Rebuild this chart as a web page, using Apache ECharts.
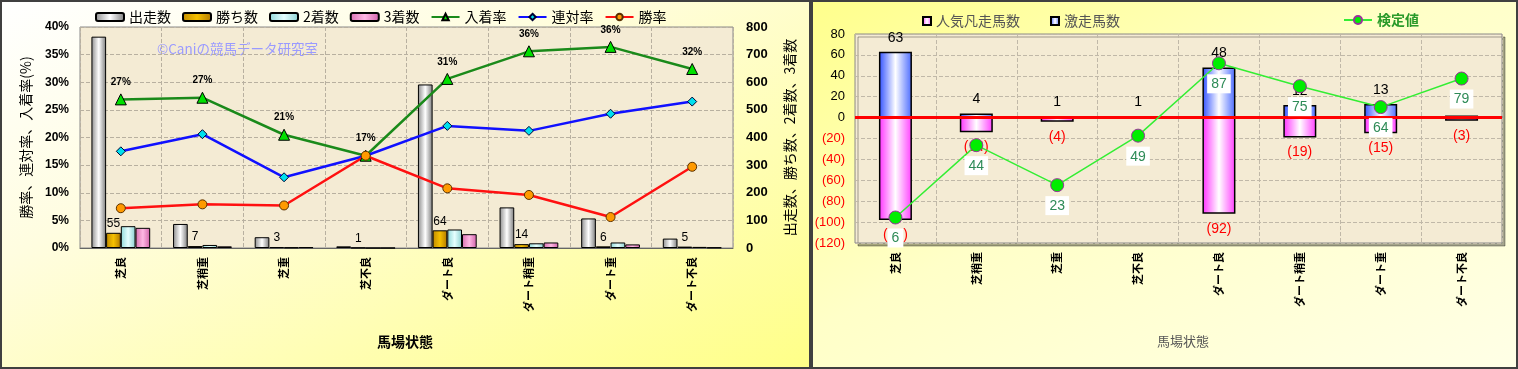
<!DOCTYPE html>
<html><head><meta charset="utf-8">
<script src="https://cdn.jsdelivr.net/npm/echarts@6/dist/echarts.min.js"></script>
<style>
html,body{margin:0;padding:0;width:1518px;height:369px;overflow:hidden;background:#fff;}
.bg{position:absolute;top:0;box-sizing:border-box;border:2px solid #404040;}
#bgL{left:0;width:811px;height:369px;background:linear-gradient(to bottom right,#ffffff 0%,#fffde0 35%,#ffff88 100%);}
#bgR{left:811px;width:707px;height:369px;background:linear-gradient(to bottom right,#ffff8c 0%,#ffffc8 45%,#ffffe6 100%);}
.ch{position:absolute;top:0;height:369px;}
#cL{left:0;width:811px;}
#cR{left:811px;width:707px;}
</style></head>
<body>
<div id="bgL" class="bg"></div><div id="bgR" class="bg"></div>
<div id="cL" class="ch"></div><div id="cR" class="ch"></div>
<script>
// ---------- data ----------
const categories = ['芝良','芝稍重','芝重','芝不良','ダート良','ダート稍重','ダート重','ダート不良'];
// left chart (counts, right axis)
const starters = [765, 87, 39, 6, 592, 147, 107, 34];
const wins     = [55, 7, 3, 1, 64, 14, 6, 5];
const seconds  = [79, 11, 2, 0, 67, 17, 20, 4];
const thirds   = [73, 6, 3, 0, 50, 20, 13, 2];
// left chart (rates %, left axis)
const placeRate    = [26.9, 27.2, 20.5, 16.7, 30.6, 35.6, 36.4, 32.4];
const quinellaRate = [17.5, 20.6, 12.8, 16.7, 22.1, 21.2, 24.3, 26.5];
const winRate      = [7.2, 7.9, 7.7, 16.7, 10.8, 9.6, 5.6, 14.7];
const leftRateTicks = ['0%','5%','10%','15%','20%','25%','30%','35%','40%'];
// right chart
const upsets = [63, 4, 1, 1, 48, 12, 13, 2];            // 激走馬数
const flops  = [-98, -14, -4, 0, -92, -19, -15, -3];    // 人気凡走馬数
const testValue = [6, 44, 23, 49, 87, 75, 64, 79];      // 検定値

const FF = "'Liberation Sans','Noto Sans CJK JP',sans-serif";
const JF = "'Noto Sans CJK JP','Liberation Sans',sans-serif";
const G = echarts.graphic.LinearGradient;
function cyl(a,b,c){ return new G(0,0,1,0,[{offset:0,color:a},{offset:0.5,color:b},{offset:1,color:c}]); }

// ---------- left chart ----------
const cL = echarts.init(document.getElementById('cL'), null, {renderer:'canvas'});
const barBase = {type:'bar', yAxisIndex:1, barGap:'0%', barCategoryGap:'28%'};
cL.setOption({
  animation:false,
  textStyle:{fontFamily:FF},
  legend:{
    left:90, top:5, itemWidth:28, itemHeight:8, itemGap:11,
    textStyle:{fontFamily:JF, fontSize:14, color:'#000'},
    data:['出走数','勝ち数','2着数','3着数','入着率','連対率','勝率']
  },
  grid:{left:80, top:27, width:653, height:221, show:true, backgroundColor:'#f4ebd4', borderColor:'#8a8a8a', borderWidth:1},
  xAxis:{
    type:'category', data:categories,
    axisLine:{lineStyle:{color:'#666'}}, axisTick:{show:false},
    splitLine:{show:true, lineStyle:{color:'#b8b0a0', type:'dashed'}},
    axisLabel:{rotate:90, margin:9, fontFamily:JF, fontSize:11, fontWeight:'bold', color:'#000'}
  },
  yAxis:[
    {type:'value', min:0, max:40, interval:5, position:'left',
     axisLine:{show:false}, axisTick:{show:false},
     splitLine:{lineStyle:{color:'#b8b0a0', type:'dashed'}},
     axisLabel:{margin:11, fontSize:12, fontWeight:'bold', color:'#000', formatter:(v)=>leftRateTicks[v/5]},
     name:'勝率、連対率、入着率(%)', nameLocation:'middle', nameRotate:90, nameGap:47,
     nameTextStyle:{fontFamily:JF, fontSize:14, color:'#000'}},
    {type:'value', min:0, max:800, interval:100, position:'right',
     axisLine:{show:false}, axisTick:{show:false}, splitLine:{show:false},
     axisLabel:{margin:13, fontSize:13, fontWeight:'bold', color:'#000'},
     name:'出走数、勝ち数、2着数、3着数', nameLocation:'middle', nameRotate:90, nameGap:50,
     nameTextStyle:{fontFamily:JF, fontSize:14, color:'#000'}}
  ],
  graphic:[
    {type:'text', left:157, top:42, style:{text:'©Caniの競馬データ研究室', fill:'#9a9aff', font:"13.5px "+JF}},
    {type:'text', left:377, top:335, style:{text:'馬場状態', fill:'#000', font:"bold 14px "+JF}}
  ],
  series:[
    Object.assign({}, barBase, {name:'出走数', data:starters,
      itemStyle:{color:cyl('#8c8c8c','#ffffff','#7a7a7a'), borderColor:'#000', borderWidth:1}}),
    Object.assign({}, barBase, {name:'勝ち数', data:wins,
      itemStyle:{color:cyl('#c08a00','#f5c000','#b07800'), borderColor:'#000', borderWidth:1},
      label:{show:true, position:'top', distance:3, fontSize:12, color:'#000'}}),
    Object.assign({}, barBase, {name:'2着数', data:seconds,
      itemStyle:{color:cyl('#8fd8d8','#e6ffff','#8ad0d0'), borderColor:'#000', borderWidth:1}}),
    Object.assign({}, barBase, {name:'3着数', data:thirds,
      itemStyle:{color:cyl('#d870b0','#ffb8e4','#d060a8'), borderColor:'#000', borderWidth:1}}),
    {type:'line', name:'入着率', data:placeRate, yAxisIndex:0, z:5,
     lineStyle:{color:'#1a8a1a', width:2.5}, symbol:'triangle', symbolSize:11,
     itemStyle:{color:'#00e000', borderColor:'#000', borderWidth:1},
     label:{show:true, position:'top', distance:6, fontSize:10, fontWeight:'bold', color:'#000',
            formatter:(p)=>Math.round(p.value)+'%'}},
    {type:'line', name:'連対率', data:quinellaRate, yAxisIndex:0, z:5,
     lineStyle:{color:'#1010ff', width:2.5}, symbol:'diamond', symbolSize:9,
     itemStyle:{color:'#00e0ee', borderColor:'#003', borderWidth:1}},
    {type:'line', name:'勝率', data:winRate, yAxisIndex:0, z:5,
     lineStyle:{color:'#ff1010', width:2.5}, symbol:'circle', symbolSize:9,
     itemStyle:{color:'#ff9a00', borderColor:'#5a3000', borderWidth:1}}
  ]
});

// ---------- right chart ----------
const cR = echarts.init(document.getElementById('cR'), null, {renderer:'canvas'});
cR.setOption({
  animation:false,
  textStyle:{fontFamily:FF},
  legend:[
    {left:106, top:9, itemWidth:8, itemHeight:8, itemGap:30, icon:'rect',
     textStyle:{fontFamily:JF, fontSize:14, color:'#555'},
     data:['人気凡走馬数','激走馬数']},
    {left:527, top:8, itemWidth:28, itemHeight:10,
     textStyle:{fontFamily:JF, fontSize:14, color:'#2a9a2a', fontWeight:'bold'},
     data:['検定値']}
  ],
  grid:{left:44, top:34, width:647, height:209, show:true, backgroundColor:'#f4ebd4',
        borderColor:'#8a8a8a', borderWidth:1, shadowColor:'rgba(0,0,0,0.35)', shadowOffsetX:3, shadowOffsetY:3, shadowBlur:0},
  xAxis:{
    type:'category', data:categories,
    axisLine:{show:false}, axisTick:{show:false},
    splitLine:{show:true, lineStyle:{color:'#c0b8a8', type:'dashed'}},
    axisLabel:{rotate:90, margin:9, fontFamily:JF, fontSize:11, fontWeight:'bold', color:'#000'}
  },
  yAxis:[
    {type:'value', min:-120, max:80, interval:20,
     axisLine:{show:false}, axisTick:{show:false},
     splitLine:{lineStyle:{color:'#c0b8a8', type:'dashed'}},
     axisLabel:{margin:10, fontSize:13, color:(v)=>Number(v)<0?'#ff0000':'#000',
                formatter:(v)=>v<0?'('+(-v)+')':String(v)}},
    {type:'value', min:-7.4, max:102.4, show:false, splitLine:{show:false}}
  ],
  graphic:[
    {type:'text', left:346, top:335, style:{text:'馬場状態', fill:'#555', font:"13px "+JF}}
  ],
  series:[
    {type:'bar', name:'人気凡走馬数', stack:'s', data:flops, barWidth:33,
     itemStyle:{color:cyl('#ff30ff','#ffffff','#ff40ff'), borderColor:'#000', borderWidth:1.5},
     label:{show:true, position:'bottom', distance:8, fontSize:14, color:'#ff0000',
            formatter:(p)=>p.value===0?'':'('+(-p.value)+')'}},
    {type:'bar', name:'激走馬数', stack:'s', data:upsets, barWidth:33,
     itemStyle:{color:cyl('#3050ff','#ffffff','#4a6aff'), borderColor:'#000', borderWidth:1.5},
     label:{show:true, position:'top', distance:7, fontSize:14, color:'#000'},
     markLine:{silent:true, symbol:['none','none'], label:{show:false},
               lineStyle:{color:'#ff0000', width:3, type:'solid'}, data:[{yAxis:0}]}},
    {type:'line', name:'検定値', yAxisIndex:1, data:testValue, z:5,
     lineStyle:{color:'#33ee33', width:1.5}, symbol:'circle', symbolSize:13,
     itemStyle:{color:'#00ee00', borderColor:'#993399', borderWidth:1},
     label:{show:true, position:'bottom', distance:4, fontSize:14, color:'#2e8b57',
            backgroundColor:'#ffffff', padding:[3,4,2,4]}}
  ]
});
</script>
</body></html>
